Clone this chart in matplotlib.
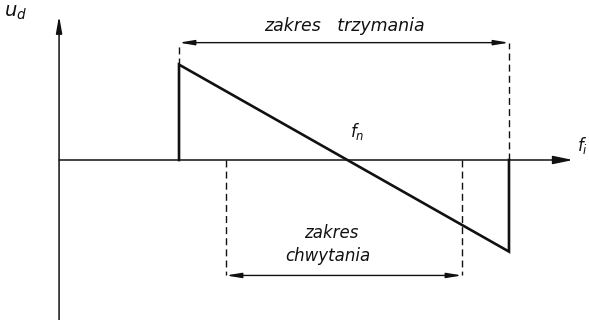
import matplotlib
matplotlib.use("Agg")
import matplotlib.pyplot as plt

# Frequency positions (relative to the free-running frequency f_n)
hold_range = [-1.0, 1.0]          # zakres trzymania
capture_range = [-0.715, 0.715]   # zakres chwytania
# Detector output at the edges of the hold range
ud_hold = [1.0, -0.96]

# Axis extents
f_axis = [-1.727, 1.388]
u_axis = [-1.70, 1.51]
hold_bracket_u = 1.23
capture_bracket_u = -1.21

fig = plt.figure(figsize=(5.89, 3.20), dpi=100)
ax = fig.add_axes([0, 0, 1, 1])
ax.set_xlim(-2.085, 1.485)
ax.set_ylim(-1.677, 1.677)
ax.axis("off")

ink = "#111111"

# Axes with arrowheads
ax.annotate("", xy=(f_axis[1], 0), xytext=(f_axis[0], 0),
            arrowprops=dict(arrowstyle="-|>,head_length=1.2,head_width=0.25",
                            color=ink, lw=1.1, shrinkA=0, shrinkB=0))
ax.annotate("", xy=(f_axis[0], u_axis[1]), xytext=(f_axis[0], u_axis[0]),
            arrowprops=dict(arrowstyle="-|>,head_length=1.0,head_width=0.18",
                            color=ink, lw=1.1, shrinkA=0, shrinkB=0))

# Detector characteristic: jump at the hold-range edges, linear slope between
ax.plot([hold_range[0], hold_range[0], hold_range[1], hold_range[1]],
        [0, ud_hold[0], ud_hold[1], 0],
        color=ink, lw=1.9, solid_joinstyle="miter")

dash = dict(color=ink, lw=1.0, linestyle=(0, (5, 3)))
# Hold range bracket
ax.plot([hold_range[0], hold_range[0]], [ud_hold[0], hold_bracket_u], **dash)
ax.plot([hold_range[1], hold_range[1]], [0, hold_bracket_u], **dash)
ax.annotate("", xy=(hold_range[0], hold_bracket_u), xytext=(hold_range[1], hold_bracket_u),
            arrowprops=dict(arrowstyle="<|-|>,head_length=0.9,head_width=0.15",
                            color=ink, lw=1.0, shrinkA=0, shrinkB=0))
# Capture range bracket
ax.plot([capture_range[0], capture_range[0]], [0, capture_bracket_u], **dash)
ax.plot([capture_range[1], capture_range[1]], [0, capture_bracket_u], **dash)
ax.annotate("", xy=(capture_range[0], capture_bracket_u),
            xytext=(capture_range[1], capture_bracket_u),
            arrowprops=dict(arrowstyle="<|-|>,head_length=0.9,head_width=0.15",
                            color=ink, lw=1.0, shrinkA=0, shrinkB=0))

txt = dict(color=ink, style="italic", family="DejaVu Sans")
ax.text(0.0, 1.40, "zakres   trzymania", ha="center", va="center", fontsize=12.5, **txt)
ax.text(-0.08, -0.77, "zakres", ha="center", va="center", fontsize=12, **txt)
ax.text(-0.10, -1.01, "chwytania", ha="center", va="center", fontsize=12, **txt)
ax.text(0.08, 0.30, "$f_n$", ha="center", va="center", fontsize=12, color=ink)
ax.text(1.478, 0.15, "$f_i$", ha="right", va="center", fontsize=12, color=ink)
ax.text(-2.06, 1.55, "$u_d$", ha="left", va="center", fontsize=14, color=ink)

fig.savefig("out.png", dpi=100)
